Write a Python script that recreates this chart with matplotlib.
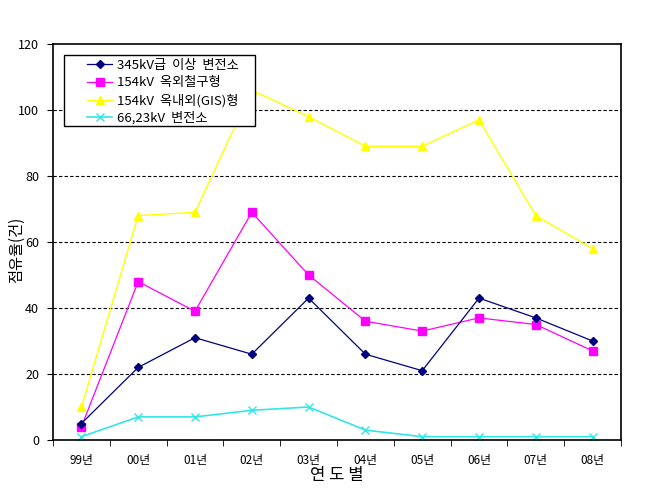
import matplotlib
matplotlib.use("Agg")
import matplotlib.pyplot as plt
from matplotlib.patches import Rectangle
import numpy as np

plt.rcParams['font.family'] = ['Noto Sans CJK KR', 'DejaVu Sans']

years = ['99년', '00년', '01년', '02년', '03년', '04년', '05년', '06년', '07년', '08년']
s345 = [5, 22, 31, 26, 43, 26, 21, 43, 37, 30]
s154_out = [4, 48, 39, 69, 50, 36, 33, 37, 35, 27]
s154_gis = [10, 68, 69, 106, 98, 89, 89, 97, 68, 58]
s66 = [1, 7, 7, 9, 10, 3, 1, 1, 1, 1]
names = ['345kV급  이상  변전소', '154kV  옥외철구형', '154kV  옥내외(GIS)형', '66,23kV  변전소']

W, H = 659, 493
fig = plt.figure(figsize=(W/100, H/100), dpi=100)
ax = fig.add_axes([53/W, 53/H, 568/W, 396/H])
x = np.arange(len(years))

ax.plot(x, s345, color='#000080', marker='D', markersize=4.5, lw=0.9, label=names[0], zorder=5)
ax.plot(x, s154_out, color='#FF00FF', marker='s', markersize=6, lw=0.9, label=names[1], zorder=4)
ax.plot(x, s154_gis, color='#FFFF00', marker='^', markersize=6, lw=1.0, label=names[2], zorder=3)
ax.plot(x, s66, color='#33E6E6', marker='x', markersize=6, mew=1.0, lw=1.2, label=names[3], zorder=2)

ax.set_xlim(-0.5, len(years) - 0.5)
ax.set_ylim(0, 120)
ax.set_yticks(range(0, 121, 20))
ax.set_xticks(x)
ax.set_xticklabels(years, fontsize=8.5)
ax.set_xticks(np.arange(-0.5, len(years), 1.0), minor=True)
ax.tick_params(axis='x', which='major', length=0, pad=10)
ax.tick_params(axis='x', which='minor', length=4, direction='out')
ax.tick_params(axis='y', length=4, direction='out', labelsize=9, pad=6)
for yv in range(20, 101, 20):
    ax.axhline(yv, color='black', ls=(0, (3, 2)), lw=0.8, zorder=1)
for sp in ax.spines.values():
    sp.set_linewidth(1.2)

ax.set_xlabel('연 도 별', fontsize=12, labelpad=0)
ax.set_ylabel('점유율(건)', fontsize=11)
ax.yaxis.set_label_coords(-28/568, 0.48)

# legend frame drawn as a rectangle in figure pixels
frame = Rectangle((64/W, 1 - 126/H), 191/W, 71/H, transform=fig.transFigure,
                  facecolor='white', edgecolor='black', lw=1.0, zorder=9)
ax.add_patch(frame)
frame.set_clip_on(False)

leg = ax.legend(loc='upper left', bbox_to_anchor=((87 - 53)/568, (440 - 59)/396), fontsize=9.5,
                borderaxespad=0, frameon=False, borderpad=0,
                labelspacing=0.33, handlelength=1.9, handletextpad=0.38)
leg.set_zorder(10)

fig.savefig('out.png', dpi=100)
